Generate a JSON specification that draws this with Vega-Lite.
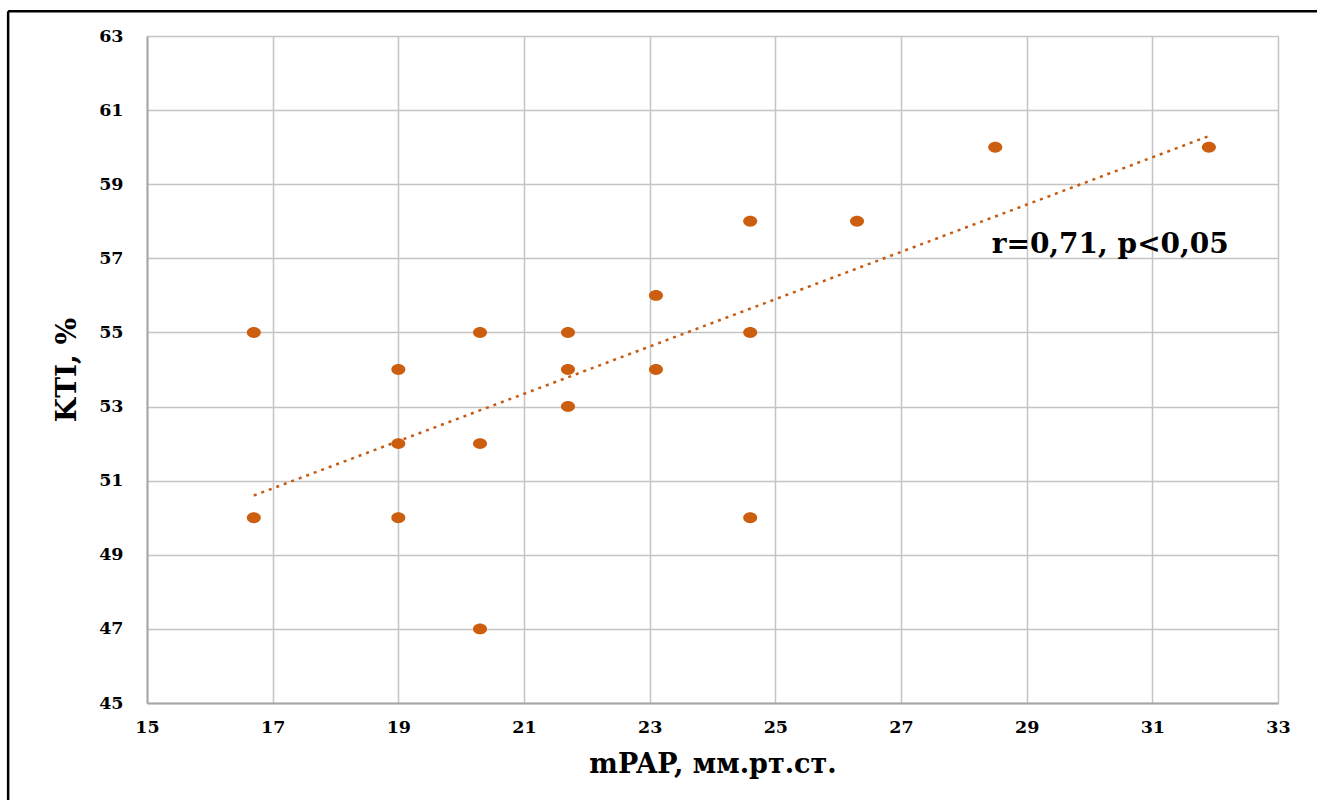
{
  "$schema": "https://vega.github.io/schema/vega-lite/v6.json",
  "width": 1131,
  "height": 667,
  "autosize": "none",
  "padding": {"left": 147, "top": 36, "right": 39, "bottom": 97},
  "background": "white",
  "config": {"view": {"stroke": null}, "font": "DejaVu Serif"},
  "datasets": {
    "points": [
      {"mPAP": 16.7, "KTI": 55},
      {"mPAP": 16.7, "KTI": 50},
      {"mPAP": 19.0, "KTI": 54},
      {"mPAP": 19.0, "KTI": 52},
      {"mPAP": 19.0, "KTI": 50},
      {"mPAP": 20.3, "KTI": 55},
      {"mPAP": 20.3, "KTI": 52},
      {"mPAP": 20.3, "KTI": 47},
      {"mPAP": 21.7, "KTI": 55},
      {"mPAP": 21.7, "KTI": 54},
      {"mPAP": 21.7, "KTI": 53},
      {"mPAP": 23.1, "KTI": 56},
      {"mPAP": 23.1, "KTI": 54},
      {"mPAP": 24.6, "KTI": 58},
      {"mPAP": 24.6, "KTI": 55},
      {"mPAP": 24.6, "KTI": 50},
      {"mPAP": 26.3, "KTI": 58},
      {"mPAP": 28.5, "KTI": 60},
      {"mPAP": 31.9, "KTI": 60}
    ],
    "trend": [
      {"mPAP": 16.7, "KTI": 50.6},
      {"mPAP": 31.9, "KTI": 60.3}
    ],
    "note": [
      {"mPAP": 30.33, "KTI": 57.36, "label": "r=0,71, p<0,05"}
    ]
  },
  "layer": [
    {
      "data": {"name": "trend"},
      "mark": {"type": "line", "color": "#C55A11", "strokeWidth": 2.5, "strokeDash": [3, 5]},
      "encoding": {
        "x": {
          "field": "mPAP", "type": "quantitative",
          "scale": {"domain": [15, 33], "nice": false, "zero": false},
          "axis": {
            "title": "mPAP, мм.рт.ст.",
            "values": [15, 17, 19, 21, 23, 25, 27, 29, 31, 33],
            "format": "d",
            "grid": true, "gridColor": "#C4C4C4", "gridWidth": 1.5,
            "domainColor": "#A6A6A6", "domainWidth": 2,
            "ticks": false, "labelFlush": false, "labelOverlap": false, "labelBound": false,
            "labelFont": "DejaVu Serif", "labelFontWeight": "bold", "labelFontSize": 17.5, "labelColor": "black",
            "labelPadding": 15,
            "titleFont": "DejaVu Serif", "titleFontWeight": "bold", "titleFontSize": 27, "titleColor": "black",
            "titleY": 61, "titleBaseline": "middle"
          }
        },
        "y": {
          "field": "KTI", "type": "quantitative",
          "scale": {"domain": [45, 63], "nice": false, "zero": false},
          "axis": {
            "title": "KTI, %",
            "values": [45, 47, 49, 51, 53, 55, 57, 59, 61, 63],
            "format": "d",
            "grid": true, "gridColor": "#C4C4C4", "gridWidth": 1.5,
            "domainColor": "#A6A6A6", "domainWidth": 2,
            "ticks": false, "labelFlush": false, "labelOverlap": false, "labelBound": false,
            "labelFont": "DejaVu Serif", "labelFontWeight": "bold", "labelFontSize": 17.5, "labelColor": "black",
            "labelPadding": 24,
            "titleFont": "DejaVu Serif", "titleFontWeight": "bold", "titleFontSize": 28, "titleColor": "black",
            "titleAngle": -90, "titleX": -80, "titleBaseline": "middle", "titleAlign": "center"
          }
        }
      }
    },
    {
      "data": {"name": "points"},
      "mark": {"type": "point", "filled": true, "shape": "M -1 0 A 1 0.78 0 1 0 1 0 A 1 0.78 0 1 0 -1 0 Z", "size": 196, "color": "#CC5E10", "opacity": 1},
      "encoding": {
        "x": {"field": "mPAP", "type": "quantitative"},
        "y": {"field": "KTI", "type": "quantitative"}
      }
    },
    {
      "data": {"name": "note"},
      "mark": {"type": "text", "font": "DejaVu Serif", "fontWeight": "bold", "fontSize": 28, "color": "black", "align": "center", "baseline": "middle"},
      "encoding": {
        "x": {"field": "mPAP", "type": "quantitative"},
        "y": {"field": "KTI", "type": "quantitative"},
        "text": {"field": "label"}
      }
    },
    {
      "data": {"values": [{}]},
      "mark": {"type": "rule", "color": "black", "strokeWidth": 2.5, "clip": false},
      "encoding": {
        "x": {"datum": 12.79, "type": "quantitative"},
        "x2": {"datum": 36},
        "y": {"datum": 63.67, "type": "quantitative"}
      }
    },
    {
      "data": {"values": [{}]},
      "mark": {"type": "rule", "color": "black", "strokeWidth": 2.5, "clip": false},
      "encoding": {
        "x": {"datum": 12.79, "type": "quantitative"},
        "y": {"datum": 63.67, "type": "quantitative"},
        "y2": {"datum": 40}
      }
    }
  ]
}
